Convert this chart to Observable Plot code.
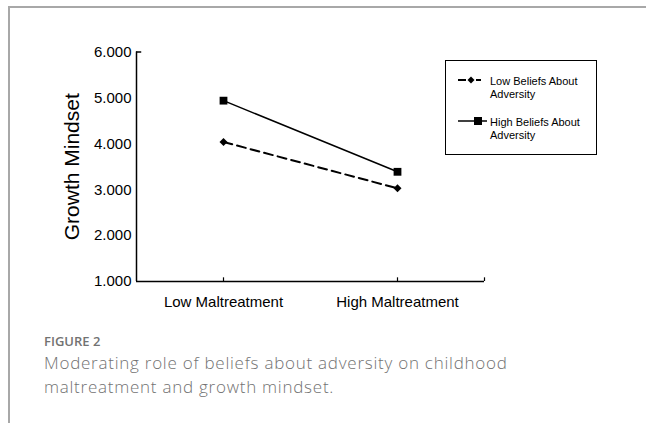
<!DOCTYPE html>
<html><head><meta charset="utf-8">
<script src="https://cdn.jsdelivr.net/npm/d3@7"></script>
<script src="https://cdn.jsdelivr.net/npm/@observablehq/plot@0.6"></script>
<style>
html,body{margin:0;padding:0;background:#fff;}
#wrap{position:relative;width:646px;height:423px;overflow:hidden;}
#border{position:absolute;left:8px;top:6px;width:640px;height:420px;border-left:2px solid #a8a8a8;border-top:2px solid #a8a8a8;}
#chart{position:absolute;left:0;top:0;}
#legend{position:absolute;left:445px;top:60px;width:150px;height:93px;border:1.5px solid #000;font-family:"Liberation Sans",Arial,sans-serif;font-size:11px;color:#000;}
.item{position:absolute;left:12px;display:flex;align-items:flex-start;}
.item svg{flex:none;margin-top:-1px;}
.item span{margin-left:2px;line-height:12.5px;}
#cap{position:absolute;left:44px;top:333px;font-family:"Open Sans",sans-serif;color:#727272;}
#cap .fig{font-size:13px;font-weight:600;line-height:17.7px;}
#cap .txt{font-size:17px;line-height:24px;letter-spacing:0.75px;font-weight:300;}
</style></head>
<body><div id="wrap"><div id="border"></div><div id="chart"></div>
<div id="legend"></div>
<div id="cap"><div class="fig">FIGURE 2</div><div class="txt">Moderating role of beliefs about adversity on childhood<br>maltreatment and growth mindset.</div></div>
</div>
<script>
const categories = ["Low Maltreatment", "High Maltreatment"];
const seriesNames = ["Low Beliefs About Adversity", "High Beliefs About Adversity"];
const lowBeliefs = [4.04, 3.03];
const highBeliefs = [4.94, 3.39];
const yTicks = [1, 2, 3, 4, 5, 6];

const low = categories.map((c, i) => ({i, c, v: lowBeliefs[i]}));
const high = categories.map((c, i) => ({i, c, v: highBeliefs[i]}));

const font = "'Liberation Sans', Arial, sans-serif";
const chart = Plot.plot({
  width: 646, height: 320,
  marginLeft: 136, marginRight: 162, marginTop: 51.5, marginBottom: 39,
  style: {fontFamily: font, color: "#000", background: "transparent", overflow: "visible"},
  x: {type: "linear", domain: [-0.5, 1.5]},
  y: {domain: [1, 6]},
  marks: [
    Plot.axisY({ticks: yTicks, tickFormat: d => d.toFixed(3), tickSize: 0, tickPadding: 5, fontSize: 15, label: null}),
    Plot.axisX({ticks: [0, 1], tickFormat: i => categories[i], tickSize: 0, tickPadding: 15, fontSize: 15, label: null}),
    Plot.ruleX([-0.5], {y1: 1, y2: 6, stroke: "#000", strokeWidth: 1.5}),
    Plot.ruleY([1], {x1: -0.5, x2: 1.5, stroke: "#000", strokeWidth: 1.5}),
    Plot.ruleY([6], {x1: -0.5, x2: -0.47, stroke: "#000", strokeWidth: 1.5}),
    Plot.ruleX([0, 1, 1.5], {y1: 1, y2: 1.08, stroke: "#000", strokeWidth: 1.2}),
    Plot.text(["Growth Mindset"], {frameAnchor: "left", textAnchor: "middle", rotate: -90, dx: -64, fontSize: 21, fill: "#000"}),
    Plot.line(low, {x: "i", y: "v", stroke: "#000", strokeWidth: 2, strokeDasharray: "9,5"}),
    Plot.line(high, {x: "i", y: "v", stroke: "#000", strokeWidth: 1.5}),
    Plot.dot(low, {x: "i", y: "v", symbol: "diamond2", r: 3.6, fill: "#000", stroke: "none"}),
    Plot.dot(high, {x: "i", y: "v", symbol: "square", r: 4.4, fill: "#000", stroke: "none"})
  ]
});
document.getElementById("chart").appendChild(chart);

// legend
const legend = document.getElementById("legend");
const words = [["Low Beliefs About", "Adversity"], ["High Beliefs About", "Adversity"]];
const tops = [14, 55];
seriesNames.forEach((name, k) => {
  const item = document.createElement("div");
  item.className = "item";
  item.style.top = tops[k] + "px";
  const s = k === 0
    ? `<svg width="30" height="12"><line x1="0" y1="6" x2="8" y2="6" stroke="#000" stroke-width="2"/><line x1="18" y1="6" x2="23" y2="6" stroke="#000" stroke-width="2"/><path d="M13,2.5L16.5,6L13,9.5L9.5,6Z" fill="#000"/></svg>`
    : `<svg width="30" height="12"><line x1="0" y1="6" x2="29" y2="6" stroke="#000" stroke-width="1.5"/><rect x="16" y="2" width="8" height="8" fill="#000"/></svg>`;
  item.innerHTML = s + `<span>${words[k][0]}<br>${words[k][1]}</span>`;
  item.title = name;
  legend.appendChild(item);
});
</script></body></html>
